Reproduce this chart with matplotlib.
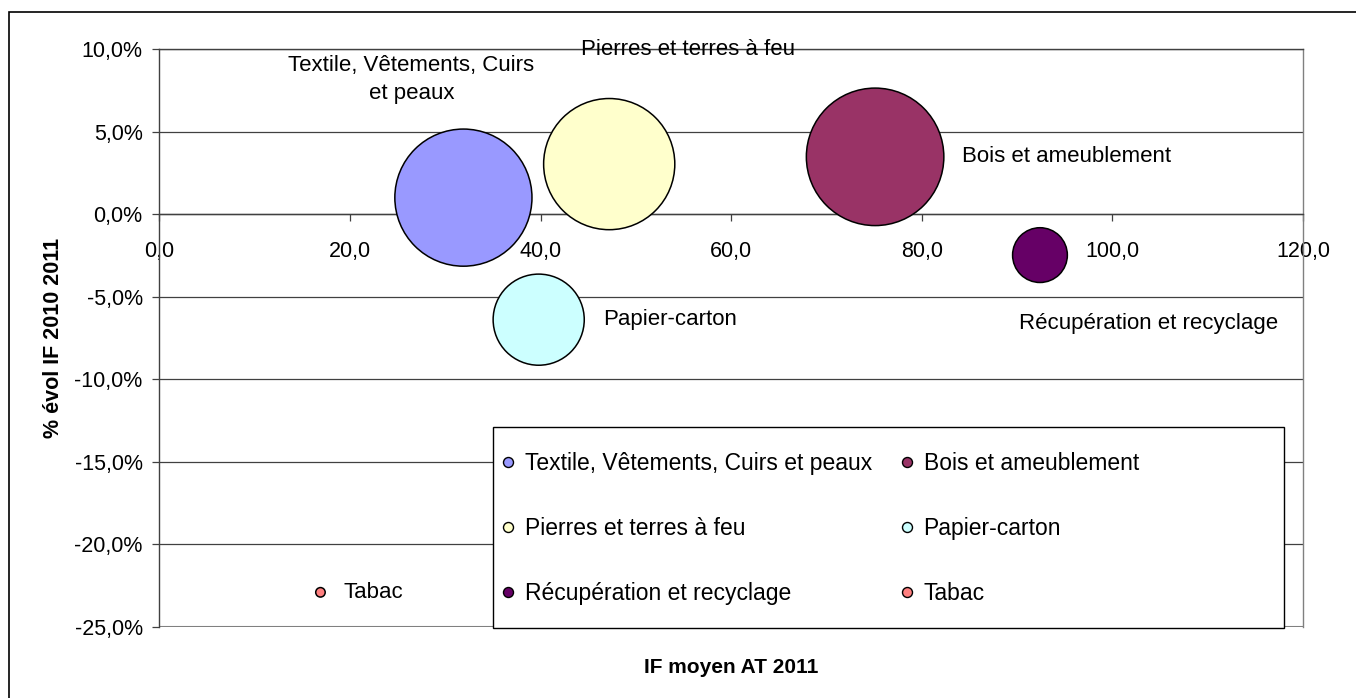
import matplotlib
matplotlib.use('Agg')
import matplotlib.pyplot as plt
from matplotlib.lines import Line2D
from matplotlib.patches import Rectangle
from matplotlib.ticker import FuncFormatter, MultipleLocator

# données du graphique (bulles)
secteurs = ['Textile, Vêtements, Cuirs et peaux', 'Bois et ameublement',
            'Pierres et terres à feu', 'Papier-carton',
            'Récupération et recyclage', 'Tabac']
etiquettes = ['Textile, Vêtements, Cuirs\net peaux', 'Bois et ameublement',
              'Pierres et terres à feu', 'Papier-carton',
              'Récupération et recyclage', 'Tabac']
if_moyen = [31.9, 75.1, 47.2, 39.8, 92.4, 16.9]
evol_if = [0.010, 0.0347, 0.0303, -0.0639, -0.0248, -0.229]
taille = [18800, 18900, 17200, 8300, 3000, 90]
couleurs = ['#9999FF', '#993366', '#FFFFCC', '#CCFFFF', '#660066', '#FF8080']

# position des étiquettes (décalage en pixels, alignement)
decalages = [(-52, 118, 'center'), (87, 0, 'left'), (79, 115, 'center'),
             (64, 0, 'left'), (109, -68, 'center'), (23, 0, 'left')]

plt.rcParams['font.family'] = ['Liberation Sans', 'DejaVu Sans']
FS = 16
FS_LEG = 16.5

W_PX, H_PX = 1356, 698
L, R, T, B = 159.4, 1303, 49, 627
fig = plt.figure(figsize=(W_PX / 100, H_PX / 100), dpi=100)
ax = fig.add_axes([L / W_PX, 1 - B / H_PX, (R - L) / W_PX, (B - T) / H_PX])


def ax_x(px):
    return (px - L) / (R - L)


def ax_y(py):
    return (B - py) / (B - T)


# cadre du graphique
fig.patches.append(Rectangle((9 / W_PX, -0.2), 2, 1.2 - 12 / H_PX,
                             transform=fig.transFigure, fill=False,
                             edgecolor='black', lw=1.2))

d_max = 137.5 * 72 / 100
tmax = max(taille)
sizes = [t / tmax * d_max ** 2 for t in taille]
ax.scatter(if_moyen, evol_if, s=sizes, c=couleurs, edgecolors='black',
           linewidths=1.1, zorder=3)

for x, y, lab, (dx, dy, ha) in zip(if_moyen, evol_if, etiquettes, decalages):
    ax.annotate(lab, (x, y), xytext=(dx, dy), textcoords='offset pixels',
                ha=ha, va='center', fontsize=FS, linespacing=1.45, zorder=4)

ax.set_xlim(0, 120)
ax.set_ylim(-0.25, 0.10)
ax.xaxis.set_major_locator(MultipleLocator(20))
ax.yaxis.set_major_locator(MultipleLocator(0.05))
ax.xaxis.set_major_formatter(FuncFormatter(lambda v, p: f'{v:.1f}'.replace('.', ',')))
ax.yaxis.set_major_formatter(FuncFormatter(lambda v, p: f'{v * 100:.1f}%'.replace('.', ',')))

ax.spines['bottom'].set_position(('data', 0))
ax.spines['bottom'].set_color('#404040')
ax.spines['left'].set_color('#404040')
ax.spines['top'].set_color('#404040')
ax.spines['right'].set_color('#808080')
for s in ax.spines.values():
    s.set_linewidth(1.0)
ax.axhline(-0.25, color='#808080', lw=1.5, zorder=1)

ax.yaxis.grid(True, color='#404040', lw=0.9)
ax.set_axisbelow(True)
ax.tick_params(axis='x', direction='out', length=5, width=0.9, color='#404040',
               labelsize=15.5, pad=14)
ax.tick_params(axis='y', direction='out', length=5, width=0.9, color='#404040',
               labelsize=15.5, pad=7)

ax.set_xlabel('IF moyen AT 2011', fontsize=15, fontweight='bold')
ax.xaxis.set_label_coords(0.5, ax_y(658), transform=ax.transAxes)
ax.set_ylabel('% évol IF 2010 2011', fontsize=15.5, fontweight='bold')
ax.yaxis.set_label_coords(ax_x(64), 0.5, transform=ax.transAxes)

# légende : cadre blanc + entrées sur deux colonnes
ax.add_patch(Rectangle((ax_x(493), ax_y(628)), ax_x(1284) - ax_x(493),
                       ax_y(427) - ax_y(628), transform=ax.transAxes,
                       facecolor='white', edgecolor='black', lw=1.0, zorder=5,
                       clip_on=False))
poignees = [Line2D([], [], ls='none', marker='o', ms=7.2, mfc=c, mec='black', mew=1.0)
            for c in couleurs]
ordre = [0, 2, 4, 1, 3, 5]
leg = ax.legend([poignees[i] for i in ordre], [secteurs[i] for i in ordre],
                ncol=2, loc='upper left', frameon=False, fontsize=FS_LEG,
                bbox_to_anchor=(ax_x(503), ax_y(452)), borderaxespad=0,
                borderpad=0, handlelength=0.45, handletextpad=0.5,
                columnspacing=1.3, labelspacing=1.84)
leg.set_zorder(6)

fig.savefig('out.png', dpi=100)
